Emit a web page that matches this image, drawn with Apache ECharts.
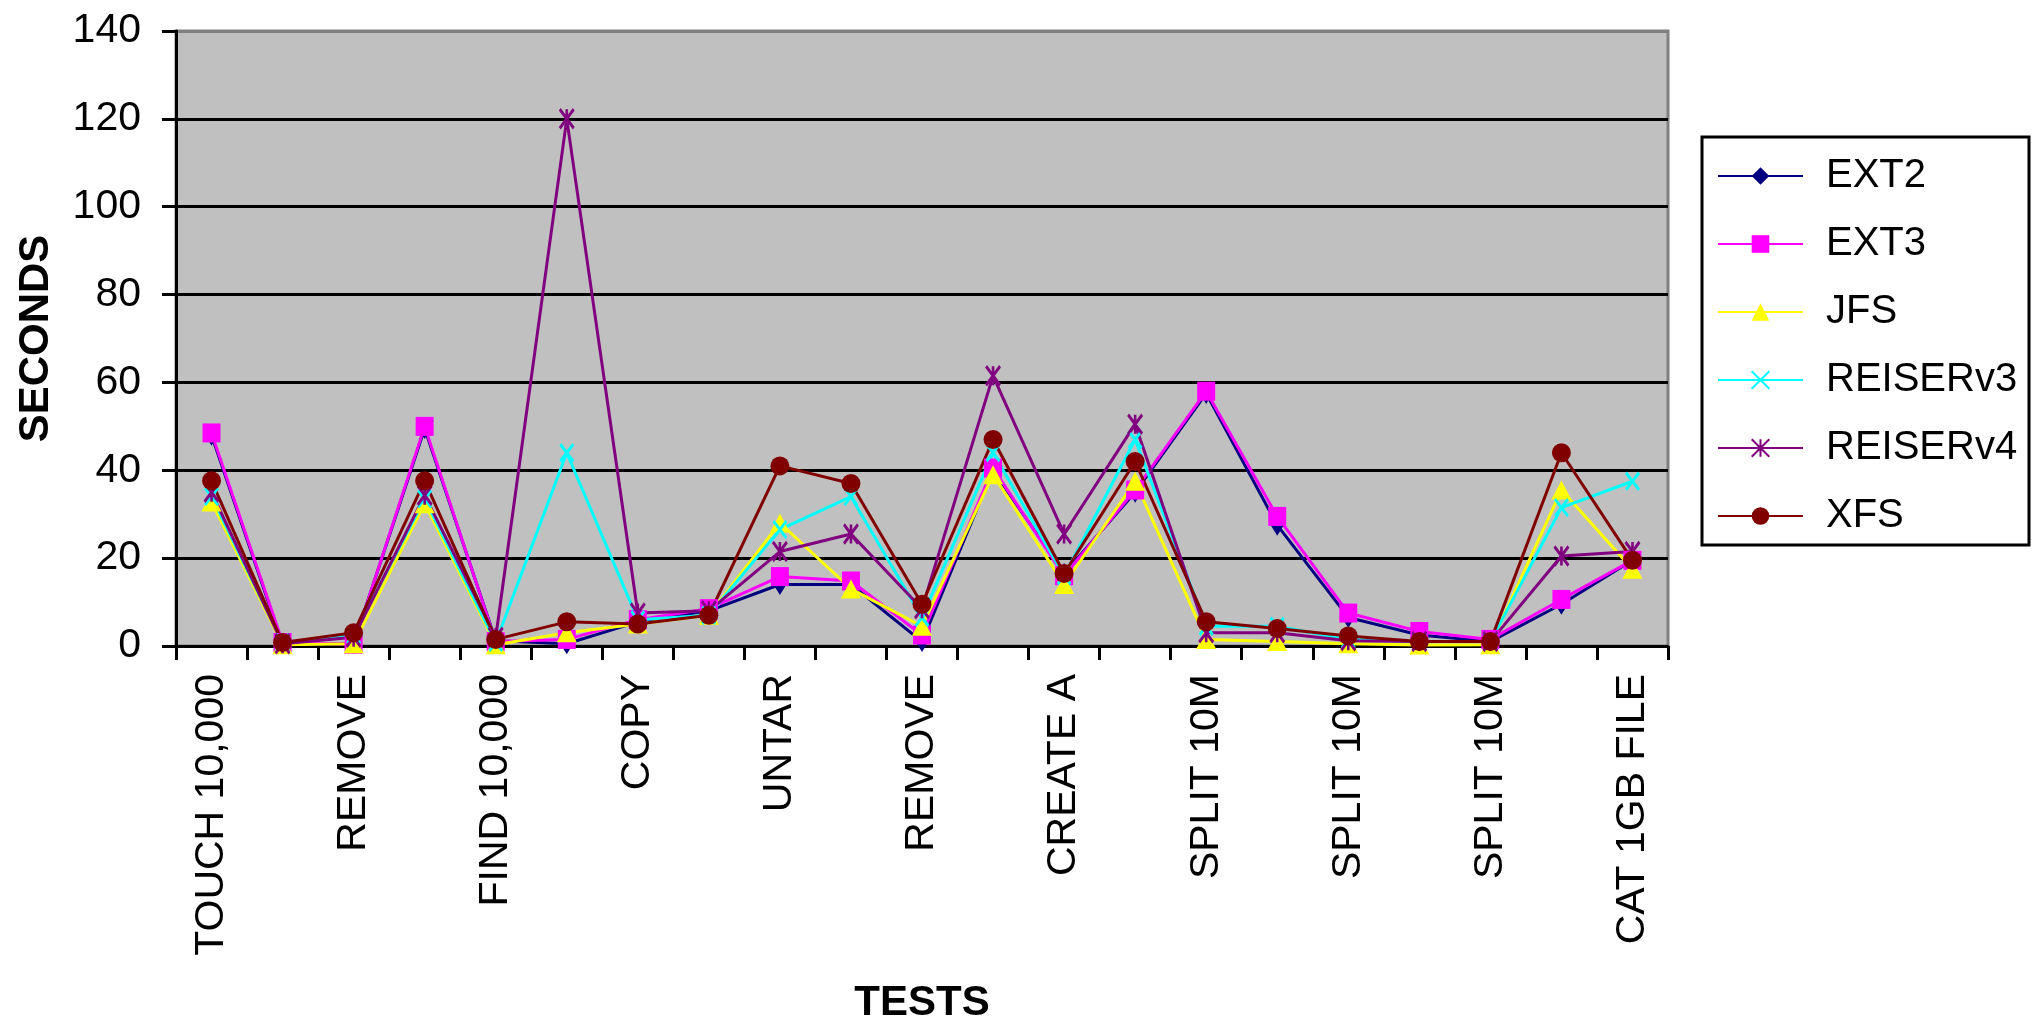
<!DOCTYPE html>
<html>
<head>
<meta charset="utf-8">
<script src="https://cdn.jsdelivr.net/npm/echarts@6/dist/echarts.min.js"></script>
<style>
html,body{margin:0;padding:0;background:#fff;}
#chart{width:2035px;height:1029px;}
</style>
</head>
<body>
<div id="chart"></div>
<script>
const categories = ['TOUCH 10,000', 'FIND 10,000', 'REMOVE', 'MAKE 10,000', 'FIND 10,000', 'REMOVE', 'COPY', 'COPY', 'UNTAR', 'TAR', 'REMOVE', 'COPY', 'CREATE A', 'COPY A', 'SPLIT 10M', 'SPLIT 10M', 'SPLIT 10M', 'SPLIT 10M', 'SPLIT 10M', 'COPY', 'CAT 1GB FILE'];
const yTicks = [0, 20, 40, 60, 80, 100, 120, 140];
const ext2 = [48, 0.5, 0.5, 49.5, 1.2, 0.5, 5.5, 8, 14, 14, 1, 40, 16.5, 35, 57.5, 27.5, 6.5, 2.5, 1, 9.5, 19.5];
const ext3 = [48.5, 0.8, 0.4, 50, 1, 1.5, 6, 8.5, 15.8, 14.8, 2.5, 40.5, 16, 35.5, 58, 29.5, 7.5, 3.3, 1.5, 10.6, 19.5];
const jfs = [32.8, 0.3, 0.5, 32.4, 0.3, 3, 5, 7, 28, 13, 4.5, 39, 14, 37.5, 1.5, 1, 0.5, 0.2, 0.3, 35.5, 17.5];
const reiserv3 = [34, 0.8, 2.5, 33.5, 0.8, 44, 6, 7, 26.5, 34, 6.5, 44, 16, 47, 4.5, 4.5, 1.5, 1, 1, 31.5, 37.5];
const reiserv4 = [35, 0.5, 2, 34.3, 2, 120, 7.5, 8, 21.5, 25.5, 8.5, 61.5, 25.5, 50.5, 3, 3, 1.2, 1, 1, 20.5, 21.5];
const xfs = [37.6, 0.8, 3, 37.6, 1.5, 5.5, 5, 7, 41, 37, 9.5, 47, 16.5, 42, 5.5, 4, 2.3, 1, 1, 44, 19.5];

const FONT = "'Liberation Sans', Arial, sans-serif";
const chart = echarts.init(document.getElementById('chart'));

function mk(name, data, color, symbol, size, stroked) {
  return {
    name: name,
    type: 'line',
    data: data,
    symbol: symbol,
    symbolSize: size,
    showAllSymbol: true,
    animation: false,
    lineStyle: {color: color, width: 3},
    itemStyle: stroked ? {color: color, borderColor: color, borderWidth: 3} : {color: color, borderWidth: 0},
    emphasis: {disabled: true}
  };
}

const splitColors = yTicks.map((v, i) => i === yTicks.length - 1 ? '#808080' : '#000000');

chart.setOption({
  animation: false,
  backgroundColor: '#ffffff',
  textStyle: {fontFamily: FONT},
  grid: {
    left: 176, right: 367, top: 31, bottom: 377,
    show: true, backgroundColor: '#C0C0C0', borderColor: '#808080', borderWidth: 3
  },
  graphic: [{
    type: 'rect', z: 1,
    shape: {x: 1702, y: 137, width: 327, height: 408},
    style: {fill: '#ffffff', stroke: '#000000', lineWidth: 3}
  }],
  legend: {
    orient: 'vertical',
    left: 1717, top: 154,
    padding: 0,
    itemWidth: 85, itemHeight: 22, itemGap: 24,
    z: 5,
    textStyle: {fontFamily: FONT, fontSize: 40, color: '#000', lineHeight: 44, padding: [0, 0, 0, 18]},
    data: ['EXT2', 'EXT3', 'JFS', 'REISERv3', 'REISERv4', 'XFS']
  },
  xAxis: {
    type: 'category',
    data: categories,
    boundaryGap: true,
    name: 'TESTS',
    nameLocation: 'middle',
    nameGap: 336,
    nameTextStyle: {fontFamily: FONT, fontSize: 42, fontWeight: 'bold', color: '#000'},
    axisLine: {show: true, lineStyle: {color: '#000', width: 3}},
    axisTick: {show: true, interval: 0, length: 14, lineStyle: {color: '#000', width: 3}},
    axisLabel: {interval: 1, rotate: 90, margin: 28, fontFamily: FONT, fontSize: 41, color: '#000'},
    splitLine: {show: false}
  },
  yAxis: {
    type: 'value',
    min: 0, max: 140, interval: 20,
    name: 'SECONDS',
    nameLocation: 'middle',
    nameRotate: 90,
    nameGap: 119,
    nameTextStyle: {fontFamily: FONT, fontSize: 42, fontWeight: 'bold', color: '#000'},
    axisLine: {show: true, lineStyle: {color: '#000', width: 3}},
    axisTick: {show: true, length: 14, lineStyle: {color: '#000', width: 3}},
    axisLabel: {margin: 35, fontFamily: FONT, fontSize: 41, color: '#000'},
    splitLine: {show: true, lineStyle: {color: splitColors, width: 3}}
  },
  series: [
    mk('EXT2', ext2, '#000080', 'diamond', [13, 21], false),
    mk('EXT3', ext3, '#FF00FF', 'rect', [18, 19], false),
    mk('JFS', jfs, '#FFFF00', 'triangle', [20, 19], false),
    mk('REISERv3', reiserv3, '#00FFFF', 'path://M0,0L10,14M10,0L0,14', [13, 17], true),
    mk('REISERv4', reiserv4, '#800080', 'path://M0,0L10,14M10,0L0,14M5,0L5,14', [14, 19], true),
    mk('XFS', xfs, '#800000', 'circle', 19, false)
  ]
});
</script>
</body>
</html>
